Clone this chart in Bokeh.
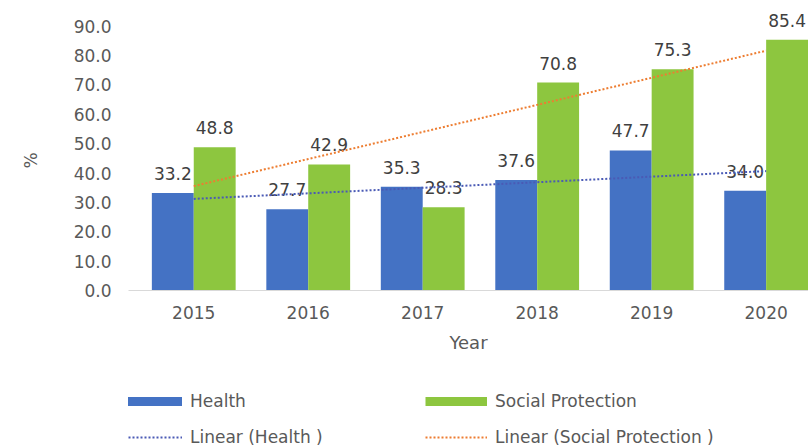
import numpy as np
from bokeh.plotting import figure
from bokeh.layouts import column
from bokeh.models import (ColumnDataSource, FixedTicker, Legend, LegendItem,
                          NumeralTickFormatter, Range1d)
from bokeh.embed import file_html
from bokeh.resources import INLINE
from bokeh.core.properties import value

years = ["2015", "2016", "2017", "2018", "2019", "2020"]
health = [33.2, 27.7, 35.3, 37.6, 47.7, 34.0]
social = [48.8, 42.9, 28.3, 70.8, 75.3, 85.4]
y_ticks = [0, 10, 20, 30, 40, 50, 60, 70, 80, 90]

BLUE = "#4472C4"
GREEN = "#8DC63F"
ORANGE = "#ED7D31"
TREND_BLUE = "#4A5AB5"
TXT = "#595959"
FONT = "DejaVu Sans"

x = np.arange(len(years), dtype=float)
off = 0.183
bw = 0.366

src = ColumnDataSource(dict(
    xh=x - off, xs=x + off, health=health, social=social,
    hl=[f"{v:.1f}" for v in health], sl=[f"{v:.1f}" for v in social],
))

p = figure(width=808, height=375, output_backend="svg", toolbar_location=None,
           x_range=(-0.57, 5.37), y_range=(0, 96),
           min_border_left=128, min_border_right=0, min_border_top=8,
           min_border_bottom=85)

p.vbar(x="xh", top="health", width=bw, source=src, fill_color=BLUE, line_color=None)
p.vbar(x="xs", top="social", width=bw, source=src, fill_color=GREEN, line_color=None)

p.text(x="xh", y="health", text="hl", source=src, text_align="center",
       text_baseline="bottom", y_offset=-13, text_color="#404040",
       text_font=value(FONT), text_font_size="17px")
p.text(x="xs", y="social", text="sl", source=src, text_align="center",
       text_baseline="bottom", y_offset=-13, text_color="#404040",
       text_font=value(FONT), text_font_size="17px")

ch = np.polyfit(x, health, 1)
cs = np.polyfit(x, social, 1)
p.line(x, np.polyval(ch, x), line_color=TREND_BLUE, line_width=2, line_dash="2 2")
p.line(x, np.polyval(cs, x), line_color=ORANGE, line_width=2, line_dash="2 2")

p.xgrid.visible = False
p.ygrid.visible = False
p.outline_line_color = None

ya = p.yaxis[0]
ya.ticker = FixedTicker(ticks=y_ticks)
ya.formatter = NumeralTickFormatter(format="0.0")
ya.axis_line_color = None
ya.major_tick_line_color = None
ya.minor_tick_line_color = None
ya.major_label_standoff = 11
ya.major_label_text_font = FONT
ya.major_label_text_font_size = "17px"
ya.major_label_text_color = TXT
ya.axis_label = "%\u00a0\u00a0\u00a0\u00a0"
ya.axis_label_standoff = 30
ya.axis_label_text_font = FONT
ya.axis_label_text_font_style = "normal"
ya.axis_label_text_font_size = "17px"
ya.axis_label_text_color = TXT

xa = p.xaxis[0]
xa.ticker = FixedTicker(ticks=list(x))
xa.major_label_overrides = {float(i): y for i, y in enumerate(years)}
xa.axis_line_color = "#D9D9D9"
xa.major_tick_line_color = None
xa.minor_tick_line_color = None
xa.major_label_standoff = 9
xa.major_label_text_font = FONT
xa.major_label_text_font_size = "17px"
xa.major_label_text_color = TXT
xa.axis_label = "Year"
xa.axis_label_standoff = 10
xa.axis_label_text_font = FONT
xa.axis_label_text_font_style = "normal"
xa.axis_label_text_font_size = "18px"
xa.axis_label_text_color = TXT

# legend figure
lg = figure(width=808, height=72, output_backend="svg", toolbar_location=None,
            x_range=Range1d(0, 1), y_range=Range1d(0, 1),
            x_axis_location=None, y_axis_location=None,
            min_border=0)
lg.xgrid.visible = False
lg.ygrid.visible = False
lg.outline_line_color = None
r1 = lg.line([5, 6], [5, 6], line_color=BLUE, line_width=9)
r2 = lg.line([5, 6], [5, 6], line_color=GREEN, line_width=9)
r3 = lg.line([5, 6], [5, 6], line_color=TREND_BLUE, line_width=2, line_dash="2 2")
r4 = lg.line([5, 6], [5, 6], line_color=ORANGE, line_width=2, line_dash="2 2")

legend = Legend(items=[
    LegendItem(label="Health", renderers=[r1]),
    LegendItem(label="Social Protection", renderers=[r2]),
    LegendItem(label="Linear (Health )", renderers=[r3]),
    LegendItem(label="Linear (Social Protection )", renderers=[r4]),
], orientation="horizontal", ncols=2, location=(-8, 0),
   glyph_width=62, glyph_height=20, label_height=20, label_width=219,
   label_standoff=8, spacing=16, padding=0, margin=0,
   label_text_font=FONT, label_text_font_size="17px", label_text_color=TXT,
   border_line_color=None, background_fill_alpha=0)
lg.add_layout(legend, "center")

layout = column(p, lg, spacing=0)
open("out.html", "w").write(file_html(layout, INLINE))
